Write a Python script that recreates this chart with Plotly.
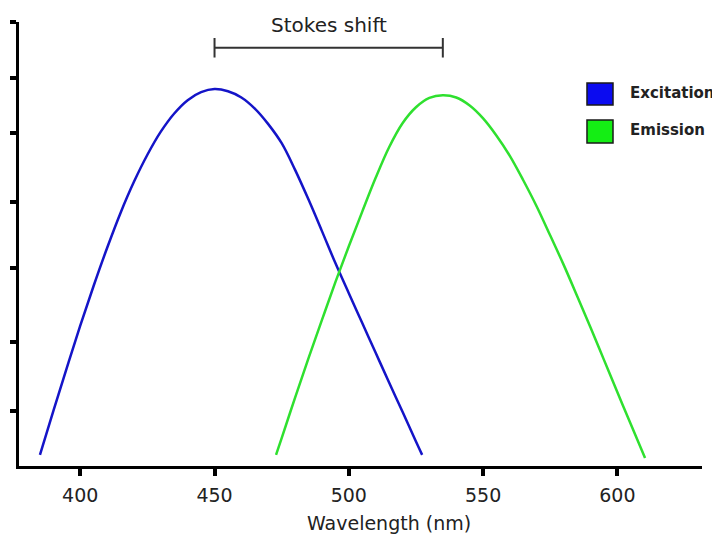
import plotly.graph_objects as go

# Excitation (blue) spectrum
ex_nm = [385, 390, 395, 400, 405, 410, 415, 420, 425, 430, 435, 440, 445, 450,
         455, 460, 465, 470, 475, 480, 485, 490, 495, 500, 505, 510, 515, 520, 525, 527.3]
ex_val = [0.025, 0.124, 0.221, 0.316, 0.406, 0.491, 0.570, 0.640, 0.701, 0.753, 0.794, 0.824, 0.842, 0.849,
          0.844, 0.830, 0.805, 0.770, 0.727, 0.667, 0.600, 0.529, 0.457, 0.389, 0.322, 0.255, 0.188, 0.122, 0.055, 0.025]

# Emission (green) spectrum
em_nm = [472.9, 475, 480, 485, 490, 495, 500, 505, 510, 515, 520, 525, 530, 535,
         540, 545, 550, 555, 560, 565, 570, 575, 580, 585, 590, 595, 600, 605, 610.3]
em_val = [0.025, 0.063, 0.154, 0.243, 0.329, 0.414, 0.495, 0.573, 0.649, 0.718, 0.772, 0.808, 0.829, 0.835,
          0.830, 0.812, 0.783, 0.744, 0.698, 0.643, 0.584, 0.519, 0.453, 0.383, 0.312, 0.239, 0.166, 0.094, 0.018]

x_ticks = [400, 450, 500, 550, 600]
y_ticks = [0.124, 0.279, 0.446, 0.595, 0.750, 0.874, 1.0]

series_names = ["Excitation", "Emission"]
x_title = "Wavelength (nm)"
blue_line = "#1414c8"
green_line = "#2fe02f"
blue_box = "#0b0bf0"
green_box = "#14ee14"
text_col = "#222222"
font_fam = "DejaVu Sans"

fig = go.Figure()
fig.add_trace(go.Scatter(x=ex_nm, y=ex_val, mode="lines", name=series_names[0],
                         line=dict(color=blue_line, width=2.5, shape="spline", smoothing=1.0)))
fig.add_trace(go.Scatter(x=em_nm, y=em_val, mode="lines", name=series_names[1],
                         line=dict(color=green_line, width=2.5, shape="spline", smoothing=1.0)))

# Stokes shift bracket between the two peaks
ex_peak = ex_nm[ex_val.index(max(ex_val))]
em_peak = em_nm[em_val.index(max(em_val))]
by = 0.942
cap = 0.022
bcol = "#333333"
fig.add_shape(type="line", x0=ex_peak, x1=em_peak, y0=by, y1=by, line=dict(color=bcol, width=2))
fig.add_shape(type="line", x0=ex_peak, x1=ex_peak, y0=by - cap, y1=by + cap, line=dict(color=bcol, width=2))
fig.add_shape(type="line", x0=em_peak, x1=em_peak, y0=by - cap, y1=by + cap, line=dict(color=bcol, width=2))
fig.add_annotation(x=(ex_peak + em_peak) / 2, y=0.993, text="Stokes shift", showarrow=False,
                   font=dict(family=font_fam, size=20, color=text_col), yanchor="middle")

# Legend drawn as boxes + labels
leg = [(series_names[0], blue_box, 0.813, 0.8626, 0.840),
       (series_names[1], green_box, 0.7275, 0.7793, 0.757)]
for name, col, y0, y1, ty in leg:
    fig.add_shape(type="rect", xref="paper", yref="paper", x0=0.8316, x1=0.8697, y0=y0, y1=y1,
                  fillcolor=col, line=dict(color="#1a1a1a", width=1.5))
    fig.add_annotation(xref="paper", yref="paper", x=0.8916, y=ty, text=f"<b>{name}</b>",
                       showarrow=False, xanchor="left", yanchor="middle",
                       font=dict(family=font_fam, size=15, color=text_col))

# x-axis title (offset to the right of centre, as in the original)
fig.add_annotation(xref="paper", yref="paper", x=0.542, y=-0.128, text=x_title, showarrow=False,
                   xanchor="center", yanchor="middle", font=dict(family=font_fam, size=19, color=text_col))

# page body adds an 8px offset, margins compensate for it
fig.update_layout(
    width=720, height=538,
    margin=dict(l=11, r=26, t=14, b=80, autoexpand=False),
    paper_bgcolor="white", plot_bgcolor="white",
    showlegend=False,
    font=dict(family=font_fam, color=text_col),
    xaxis=dict(range=[377.2, 631.5], tickvals=x_ticks, ticks="outside", ticklen=7, tickwidth=4,
               tickcolor="black", showline=True, linecolor="black", linewidth=3, showgrid=False,
               zeroline=False, tickfont=dict(size=19, color=text_col), automargin=False,
               ticklabelstandoff=3),
    yaxis=dict(range=[0, 1], tickvals=y_ticks, ticks="outside", ticklen=6, tickwidth=4,
               tickcolor="black", showline=True, linecolor="black", linewidth=3, showgrid=False,
               zeroline=False, showticklabels=False, automargin=False),
)

fig.write_html("out.html")
